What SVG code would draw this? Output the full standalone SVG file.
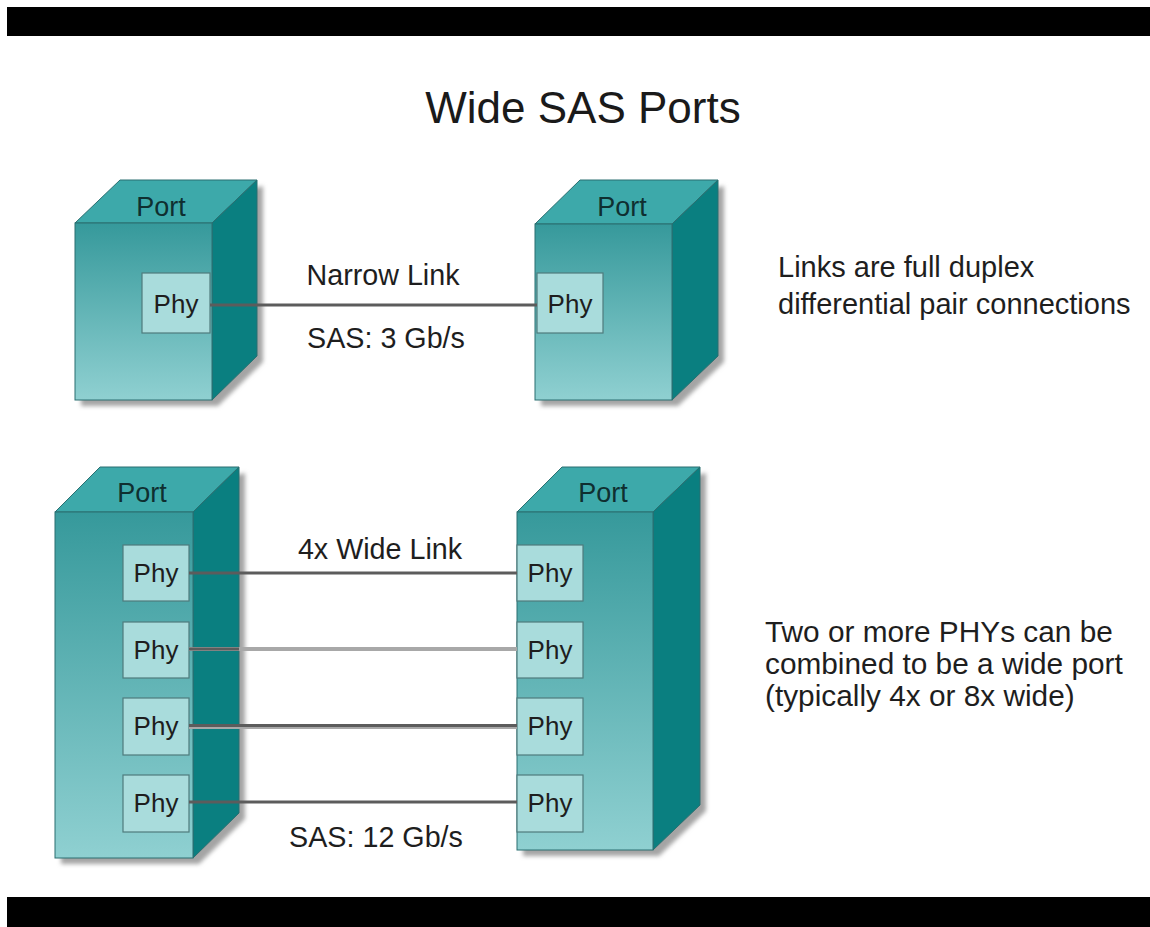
<svg xmlns="http://www.w3.org/2000/svg" width="1150" height="927" viewBox="0 0 1150 927">
  <defs>
    <linearGradient id="frontGrad" x1="0" y1="0" x2="0" y2="1">
      <stop offset="0" stop-color="#36999b"/>
      <stop offset="1" stop-color="#8fd0d1"/>
    </linearGradient>
    <filter id="soft" x="-10%" y="-10%" width="130%" height="130%">
      <feGaussianBlur stdDeviation="2"/>
    </filter>
  </defs>
  <style>
    .bar { fill: #000; }
    .shadow { fill: #a4a4a4; filter: url(#soft); }
    .front { fill: url(#frontGrad); stroke: #2b6f70; stroke-width: 1; }
    .top { fill: #3da9aa; stroke: #2b6f70; stroke-width: 1; }
    .side { fill: #0a7f80; stroke: #2b6f70; stroke-width: 1; }
    .phy { fill: #a9dcdc; stroke: #4f7b7c; stroke-width: 1.2; }
    .lbl { font-family: "Liberation Sans", Arial, sans-serif; fill: #1b1b1b; }
    .port { font-size: 27px; text-anchor: middle; fill: #0f2f30; }
    .phyt { font-size: 26px; text-anchor: middle; fill: #1e1e1e; }
    .link { font-size: 28.7px; text-anchor: middle; fill: #1e1e1e; }
    .note { font-size: 29px; fill: #1e1e1e; }
    .note2 { font-size: 29.8px; fill: #1e1e1e; }
    .title { font-size: 44px; text-anchor: middle; fill: #1a1a1a; }
    .wire { stroke: #5c5c5c; stroke-width: 3; fill: none; }
    .wire-lt { stroke: #a8a8a8; stroke-width: 4; fill: none; }
  </style>

  <rect width="1150" height="927" fill="#fff"/>
  <rect class="bar" x="7" y="7" width="1143" height="29"/>
  <rect class="bar" x="7" y="897" width="1143" height="30"/>

  <text class="lbl title" x="583" y="123">Wide SAS Ports</text>

  <!-- Narrow port pair -->
  <g id="port-narrow-left">
    <polygon class="shadow" points="81,229 263,186 263,362 218,406 81,406"/>
    <polygon class="top" points="75,223 120,180 257,180 212,223"/>
    <polygon class="side" points="212,223 257,180 257,356 212,400"/>
    <rect class="front" x="75" y="223" width="137" height="177"/>
    <text class="lbl port" x="161" y="216">Port</text>
    <g id="phy-nl">
      <rect class="phy" x="142" y="273" width="68" height="60"/>
      <text class="lbl phyt" x="176" y="313">Phy</text>
    </g>
  </g>

  <g id="port-narrow-right">
    <polygon class="shadow" points="541,230 724,186 724,362 678,406 541,406"/>
    <polygon class="top" points="535,224 580,180 718,180 672,224"/>
    <polygon class="side" points="672,224 718,180 718,356 672,400"/>
    <rect class="front" x="535" y="224" width="137" height="176"/>
    <text class="lbl port" x="622" y="216">Port</text>
    <g id="phy-nr">
      <rect class="phy" x="537" y="273" width="66" height="60"/>
      <text class="lbl phyt" x="570" y="313">Phy</text>
    </g>
  </g>

  <!-- Wide port pair -->
  <g id="port-wide-left">
    <polygon class="shadow" points="61,518 245,473 245,819 199,864 61,864"/>
    <polygon class="top" points="55,512 100,467 239,467 193,512"/>
    <polygon class="side" points="193,512 239,467 239,813 193,858"/>
    <rect class="front" x="55" y="512" width="138" height="346"/>
    <text class="lbl port" x="142" y="502">Port</text>
    <g id="phy-wl1">
      <rect class="phy" x="123" y="545" width="66" height="56"/>
      <text class="lbl phyt" x="156" y="582">Phy</text>
    </g>
    <g id="phy-wl2">
      <rect class="phy" x="123" y="622" width="66" height="56"/>
      <text class="lbl phyt" x="156" y="659">Phy</text>
    </g>
    <g id="phy-wl3">
      <rect class="phy" x="123" y="698" width="66" height="57"/>
      <text class="lbl phyt" x="156" y="735">Phy</text>
    </g>
    <g id="phy-wl4">
      <rect class="phy" x="123" y="775" width="66" height="57"/>
      <text class="lbl phyt" x="156" y="812">Phy</text>
    </g>
  </g>

  <g id="port-wide-right">
    <polygon class="shadow" points="523,518 706,473 706,811 659,856 523,856"/>
    <polygon class="top" points="517,512 562,467 700,467 653,512"/>
    <polygon class="side" points="653,512 700,467 700,805 653,850"/>
    <rect class="front" x="517" y="512" width="136" height="338"/>
    <text class="lbl port" x="603" y="502">Port</text>
    <g id="phy-wr1">
      <rect class="phy" x="517" y="545" width="66" height="56"/>
      <text class="lbl phyt" x="550" y="582">Phy</text>
    </g>
    <g id="phy-wr2">
      <rect class="phy" x="517" y="622" width="66" height="56"/>
      <text class="lbl phyt" x="550" y="659">Phy</text>
    </g>
    <g id="phy-wr3">
      <rect class="phy" x="517" y="698" width="66" height="57"/>
      <text class="lbl phyt" x="550" y="735">Phy</text>
    </g>
    <g id="phy-wr4">
      <rect class="phy" x="517" y="775" width="66" height="57"/>
      <text class="lbl phyt" x="550" y="812">Phy</text>
    </g>
  </g>

  <!-- Links between PHYs -->
  <g id="connectors">
    <line class="wire" x1="210" y1="305" x2="537" y2="305"/>
    <line class="wire" x1="189" y1="573" x2="517" y2="573" stroke-width="2.5"/>
    <line class="wire-lt" x1="189" y1="649" x2="517" y2="649"/>
    <line class="wire" x1="189" y1="649" x2="239" y2="649" stroke="#1f4f50" stroke-width="4"/>
    <line class="wire-lt" x1="189" y1="727" x2="517" y2="727" stroke-width="5"/>
    <line class="wire" x1="189" y1="725.5" x2="517" y2="725.5" stroke-width="2"/>
    <line class="wire" x1="189" y1="802" x2="517" y2="802" stroke-width="2.5"/>
  </g>

  <text class="lbl link" x="383" y="285">Narrow Link</text>
  <text class="lbl link" x="386" y="348">SAS: 3 Gb/s</text>
  <text class="lbl link" x="380" y="559">4x Wide Link</text>
  <text class="lbl link" x="376" y="847">SAS: 12 Gb/s</text>

  <text class="lbl note" x="778" y="277">Links are full duplex</text>
  <text class="lbl note" x="778" y="314">differential pair connections</text>

  <text class="lbl note2" x="765" y="642">Two or more PHYs can be</text>
  <text class="lbl note2" x="765" y="674">combined to be a wide port</text>
  <text class="lbl note2" x="765" y="706">(typically 4x or 8x wide)</text>
</svg>
